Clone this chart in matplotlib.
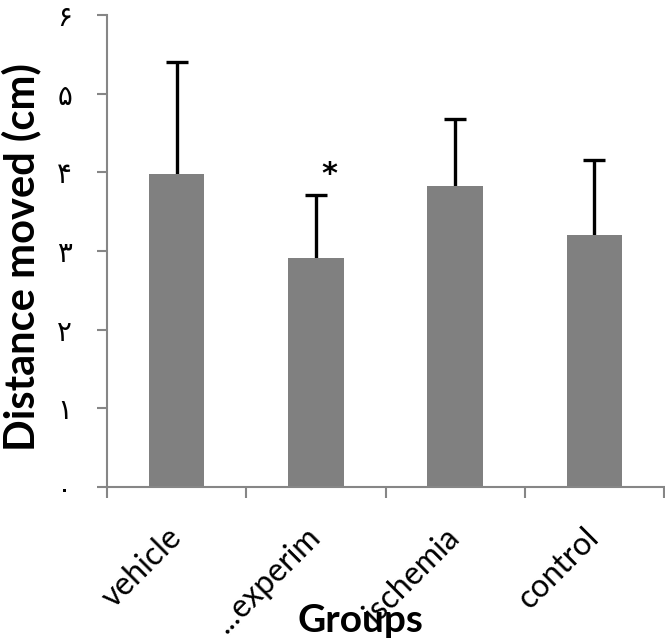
import matplotlib
matplotlib.use("Agg")
import matplotlib.pyplot as plt
import numpy as np

categories = ["vehicle", "...experim", "ischemia", "control"]
means = [3.98, 2.91, 3.83, 3.20]
errors = [1.42, 0.80, 0.85, 0.96]
ytick_vals = [0, 1, 2, 3, 4, 5, 6]
ytick_labels = ["۰", "۱", "۲", "۳", "۴", "۵", "۶"]
star_index = 1

fig = plt.figure(figsize=(6.65, 6.41), dpi=100)
ax = fig.add_axes([107/665, 1-487/641, (664-107)/665, (487-15)/641])

x = np.arange(len(categories))
ax.bar(x, means, width=0.4, color="#808080", zorder=2)
eb = ax.errorbar(x, means, yerr=[np.zeros(len(errors)), errors], fmt="none",
                 ecolor="black", elinewidth=2.4, capsize=8, capthick=2.4, zorder=1)
eb[1][0].set_visible(False)
ax.text(x[star_index] + 0.1, means[star_index] + errors[star_index] + 0.08, "*",
        ha="center", va="bottom", fontsize=22, fontweight="bold", family="DejaVu Sans")

ax.set_xlim(-0.5, len(categories) - 0.5)
ax.set_ylim(0, 6)

ax.set_yticks(ytick_vals)
ax.set_yticklabels(ytick_labels, family="DejaVu Sans", fontsize=20)
ax.tick_params(axis="y", direction="out", length=7, width=1.5, color="#868686", pad=18)

ax.set_xticks(x)
ax.set_xticklabels(categories, rotation=45, ha="right", va="center",
                   rotation_mode="anchor", fontsize=23, family="Lato")
ax.tick_params(axis="x", which="major", length=0, pad=33)
ax.set_xticks(np.arange(len(categories) + 1) - 0.5, minor=True)
ax.tick_params(axis="x", which="minor", direction="out", length=8, width=1.5, color="#868686")

for s in ["top", "right"]:
    ax.spines[s].set_visible(False)
for s in ["left", "bottom"]:
    ax.spines[s].set_color("#868686")
    ax.spines[s].set_linewidth(1.5)

fig.text(21/665, 1-257/641, "Distance moved (cm)", rotation=90, ha="center", va="center",
         fontsize=30, fontweight="bold", family="Lato")
fig.text(360/665, 1-621/641, "Groups", ha="center", va="center",
         fontsize=28, fontweight="bold", family="Lato")

fig.savefig("out.png", dpi=100)
